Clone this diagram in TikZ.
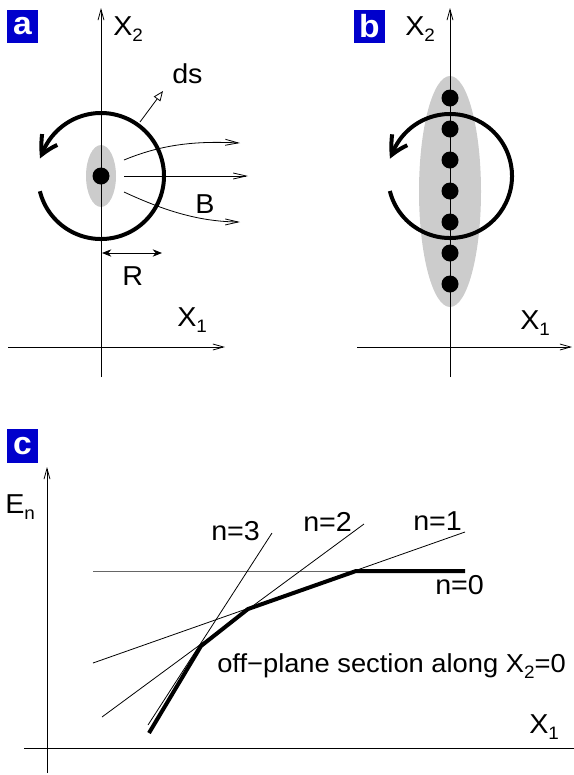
\documentclass[tikz,border=0pt]{standalone}
\usepackage{fontspec}
\setmainfont{Liberation Sans}[FakeStretch=1.05]
\usetikzlibrary{arrows.meta,bending,positioning}
\definecolor{panelblue}{HTML}{0000CC}
\definecolor{blobgray}{HTML}{CCCCCC}
\definecolor{levelgray}{HTML}{666666}
\newcommand{\lowidx}[1]{\raisebox{-5pt}{\fontsize{13.5pt}{14pt}\selectfont #1}}

\begin{document}
\begin{tikzpicture}[
      x=0.75pt, y=-0.75pt,
      axis/.style={line width=0.6pt, -{Straight Barb[length=8pt,width=4.5pt]}},
      lbl/.style={font=\fontsize{20.5pt}{22pt}\selectfont, inner sep=0pt, anchor=base west},
      paneltag/.style={fill=panelblue, text=white, font=\fontsize{24pt}{24pt}\selectfont\bfseries,
                       minimum width=23.25pt, minimum height=24.75pt, inner sep=0pt},
      vortex/.style={line width=3pt, -{Straight Barb[length=13pt,width=14pt,bend]}},
      field/.style={line width=0.6pt, -{Straight Barb[length=9.75pt,width=4.5pt]}},
      dot/.style={circle, fill=black, minimum size=12.75pt, inner sep=0pt},
      branch/.style={line width=0.6pt},
      envelope/.style={line width=3pt, line join=miter},
    ]
    \useasboundingbox (0,0) rectangle (574,775);

    % panel a: single vortex
    \node[paneltag] (taga) at (22.5,26.5) {a};
    \fill[blobgray] (101,176) ellipse [x radius=15, y radius=31];
    \coordinate (a-yb) at (101,377);
    \coordinate (a-yt) at (101,8);
    \coordinate (a-xl) at (8,347);
    \coordinate (a-xr) at (225,347);
    \draw[axis] (a-yb) -- (a-yt);
    \draw[axis] (a-xl) -- (a-xr);
    \node[lbl] (a-x2) at (113,35) {X\lowidx{2}};
    \node[lbl] (a-x1) at (177,326) {X\lowidx{1}};
    \draw[vortex] (101,176) ++(166:63) arc[start angle=166, end angle=-164, radius=63];
    \node[dot] (a-core) at (101,176) {};
    \coordinate (a-f1s) at (124,160);
    \coordinate (a-f1e) at (240,143);
    \coordinate (a-f2s) at (124,176);
    \coordinate (a-f2e) at (248,176);
    \coordinate (a-f3s) at (124,192);
    \coordinate (a-f3e) at (240,222);
    \draw[field] (a-f1s) .. controls (165,143) and (200,141) .. (a-f1e);
    \draw[field] (a-f2s) -- (a-f2e);
    \draw[field] (a-f3s) .. controls (165,211) and (200,222) .. (a-f3e);
    \node[lbl] (a-b) at (195,213) {B};
    \coordinate (a-ds0) at (140,122);
    \coordinate (a-ds1) at (163,91);
    \draw[line width=0.6pt, -{Triangle[open, length=7.5pt, width=6pt]}] (a-ds0) -- (a-ds1);
    \node[lbl] (a-ds) at (172,83) {ds};
    \coordinate (a-r0) at (102,253);
    \coordinate (a-r1) at (162,253);
    \draw[line width=0.6pt, {Stealth[length=7pt,width=5.5pt]}-{Stealth[length=7pt,width=5.5pt]}] (a-r0) -- (a-r1);
    \node[lbl] (a-r) at (122,285) {R};

    % panel b: chain of cores
    \node[paneltag] (tagb) at (369.5,26.5) {b};
    \fill[blobgray] (450,191.5) ellipse [x radius=31, y radius=115.5];
    \coordinate (b-yb) at (450,377);
    \coordinate (b-yt) at (450,8);
    \coordinate (b-xl) at (357,347);
    \coordinate (b-xr) at (572,347);
    \draw[axis] (b-yb) -- (b-yt);
    \draw[axis] (b-xl) -- (b-xr);
    \node[lbl] (b-x2) at (405,35) {X\lowidx{2}};
    \node[lbl] (b-x1) at (520,329) {X\lowidx{1}};
    \draw[vortex] (450,176) ++(166:62) arc[start angle=166, end angle=-164, radius=62];
    \foreach \k/\yy in {1/98,2/129,3/160,4/191,5/222,6/253,7/284}
      \node[dot] (b-core\k) at (450,\yy) {};

    % panel c: energy levels
    \node[paneltag, minimum height=25.5pt] (tagc) at (22.5,446) {c};
    \coordinate (c-yb) at (47,773);
    \coordinate (c-yt) at (47,467);
    \coordinate (c-xl) at (24,748);
    \coordinate (c-xr) at (574,748);
    \draw[axis] (c-yb) -- (c-yt);
    \draw[branch] (c-xl) -- (c-xr);
    \node[lbl] (c-en) at (5,513) {E\lowidx{n}};
    \node[lbl] (c-x1) at (529,733) {X\lowidx{1}};
    \coordinate (n0a) at (93,571);  \coordinate (n0b) at (465,571);
    \coordinate (n1a) at (93,663);  \coordinate (n1b) at (465,532);
    \coordinate (n2a) at (102,717); \coordinate (n2b) at (364,524);
    \coordinate (n3a) at (148,725); \coordinate (n3b) at (272,533);
    \draw[branch, levelgray] (n0a) -- (n0b);
    \draw[branch] (n1a) -- (n1b);
    \draw[branch] (n2a) -- (n2b);
    \draw[branch] (n3a) -- (n3b);
    \draw[envelope] (149,733) -- (201,646) -- (248,609) -- (356,571) -- (n0b);
    \node[lbl] (c-n3) at (211,540) {n=3};
    \node[lbl] (c-n2) at (303,531) {n=2};
    \node[lbl] (c-n1) at (413,530) {n=1};
    \node[lbl] (c-n0) at (435,594) {n=0};
    \node[lbl, font=\fontsize{19.5pt}{22pt}\selectfont] (c-cut) at (217,672) {off\char"2212 plane section along X\lowidx{2}=0};
  \end{tikzpicture}
\end{document}
